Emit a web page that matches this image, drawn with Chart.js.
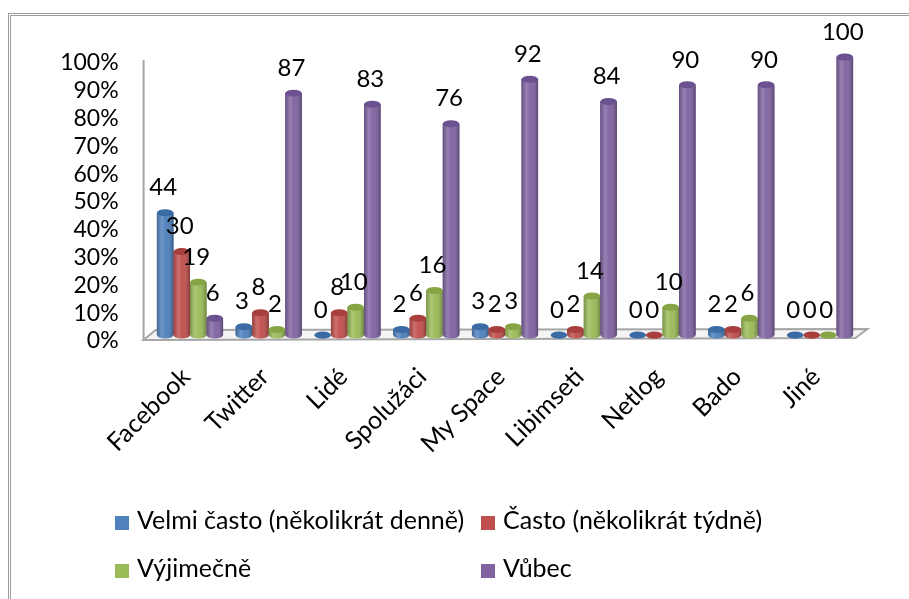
<!DOCTYPE html>
<html>
<head>
<meta charset="utf-8">
<script src="https://cdn.jsdelivr.net/npm/chart.js@4"></script>
<style>
  html, body { margin: 0; padding: 0; background: #fff; overflow: hidden; }
  #frame { position: absolute; left: 8px; top: 13px; width: 1000px; height: 1000px;
           border-top: 3px double #9c9c9c; border-left: 3px double #9c9c9c; }
  #wrap { position: absolute; left: 0; top: 0; width: 909px; height: 599px; }
  .leg { position: absolute; font: 25px Lato, sans-serif; color: #000; white-space: nowrap;
         line-height: 25px; }
  .leg span { display: inline-block; width: 14px; height: 14px; margin-right: 8px; vertical-align: -1px; }
</style>
</head>
<body>
<div id="frame"></div>
<div id="wrap"><canvas id="chart" width="909" height="599"></canvas></div>
<div id="legend"></div>
<script>
// categories and series
const categories = ["Facebook", "Twitter", "Lidé", "Spolužáci", "My Space", "Libimseti", "Netlog", "Bado", "Jiné"];
const velmiCasto = [44, 3, 0, 2, 3, 0, 0, 2, 0];
const casto = [30, 8, 8, 6, 2, 2, 0, 2, 0];
const vyjimecne = [19, 2, 10, 16, 3, 14, 10, 6, 0];
const vubec = [6, 87, 83, 76, 92, 84, 90, 90, 100];
const seriesNames = ["Velmi často (několikrát denně)", "Často (několikrát týdně)", "Výjimečně", "Vůbec"];
const seriesColors = ["#4f81bd", "#c0504d", "#9bbb59", "#8064a2"];
const capColors = ["#3a6ba5", "#a83f3c", "#86a545", "#6b5190"];
const yMax = 100;
const yStep = 10;

const font = "Lato, sans-serif";

// 3d floor + left wall line, drawn behind the bars
const floorPlugin = {
  id: "floor",
  beforeDatasetsDraw(chart) {
    const c = chart.ctx, a = chart.chartArea, y = chart.scales.y;
    const base = y.getPixelForValue(0);
    c.save();
    c.strokeStyle = "#a6a6a6";
    c.lineWidth = 2;
    c.fillStyle = "#f4f4f4";
    c.beginPath();
    c.moveTo(a.left - 7, base + 5);
    c.lineTo(a.right - 4, base + 3);
    c.lineTo(a.right + 8, base - 6);
    c.lineTo(a.left + 5, base - 5);
    c.closePath();
    c.fill();
    c.stroke();
    c.beginPath();
    c.moveTo(a.left - 7, y.getPixelForValue(yMax) + 3);
    c.lineTo(a.left - 7, base + 5);
    c.stroke();
    c.restore();
  }
};

// turn flat bars into cylinders and put the value above each
const cylinderPlugin = {
  id: "cylinders",
  afterDatasetsDraw(chart) {
    const c = chart.ctx;
    const base = chart.scales.y.getPixelForValue(0);
    chart.data.datasets.forEach((ds, di) => {
      const meta = chart.getDatasetMeta(di);
      meta.data.forEach((bar) => {
        const w = bar.width, r = w / 2, ry = 3.5;
        const x0 = bar.x - r, top = bar.y;
        c.save();
        // body + rounded bottom
        c.beginPath();
        c.moveTo(x0, top);
        c.lineTo(x0, base);
        c.ellipse(bar.x, base, r, ry, 0, Math.PI, 0, true);
        c.lineTo(x0 + w, top);
        c.closePath();
        c.fillStyle = seriesColors[di];
        c.fill();
        const g = c.createLinearGradient(x0, 0, x0 + w, 0);
        g.addColorStop(0, "rgba(0,0,0,0.22)");
        g.addColorStop(0.3, "rgba(255,255,255,0.18)");
        g.addColorStop(0.55, "rgba(255,255,255,0.02)");
        g.addColorStop(1, "rgba(0,0,0,0.30)");
        c.fillStyle = g;
        c.fill();
        // top cap
        c.beginPath();
        c.ellipse(bar.x, top, r, ry, 0, 0, Math.PI * 2);
        c.fillStyle = capColors[di];
        c.fill();
        c.restore();
      });
    });
    c.save();
    c.font = "24px " + font;
    c.fillStyle = "#000";
    c.textAlign = "center";
    c.textBaseline = "middle";
    chart.data.datasets.forEach((ds, di) => {
      chart.getDatasetMeta(di).data.forEach((bar, i) => {
        c.fillText(String(ds.data[i]), bar.x - 2, bar.y - 25);
      });
    });
    c.restore();
  }
};

const seriesData = [velmiCasto, casto, vyjimecne, vubec];

const chart = new Chart(document.getElementById("chart").getContext("2d"), {
  type: "bar",
  data: {
    labels: categories,
    datasets: seriesNames.map((name, i) => ({
      label: name,
      data: seriesData[i],
      backgroundColor: seriesColors[i],
      borderWidth: 0,
      categoryPercentage: 0.84,
      barPercentage: 1.0
    }))
  },
  options: {
    responsive: false,
    animation: false,
    layout: { padding: { top: 57, right: 49.6, left: 0, bottom: 0 } },
    plugins: { legend: { display: false }, tooltip: { enabled: false } },
    scales: {
      y: {
        min: 0,
        max: yMax,
        grid: { display: false },
        border: { display: false },
        ticks: {
          stepSize: yStep,
          autoSkip: false,
          color: "#000",
          font: { family: font, size: 23 },
          padding: 24,
          labelOffset: 6,
          callback: (v) => v + "%"
        },
        afterFit(scale) { scale.width = 150.6; }
      },
      x: {
        grid: { display: false },
        border: { display: false },
        ticks: {
          color: "#000",
          font: { family: font, size: 25 },
          maxRotation: 45,
          minRotation: 45,
          padding: 19,
          labelOffset: -4,
          autoSkip: false
        },
        afterFit(scale) { scale.height = 264; }
      }
    }
  },
  plugins: [floorPlugin, cylinderPlugin]
});

// two-column legend under the chart
const legend = document.getElementById("legend");
chart.data.datasets.forEach((ds, i) => {
  const d = document.createElement("div");
  d.className = "leg";
  d.style.left = (i % 2 ? 481 : 115) + "px";
  d.style.top = (i < 2 ? 507 : 555) + "px";
  d.innerHTML = '<span style="background:' + ds.backgroundColor + '"></span>' + ds.label;
  legend.appendChild(d);
});
</script>
</body>
</html>
